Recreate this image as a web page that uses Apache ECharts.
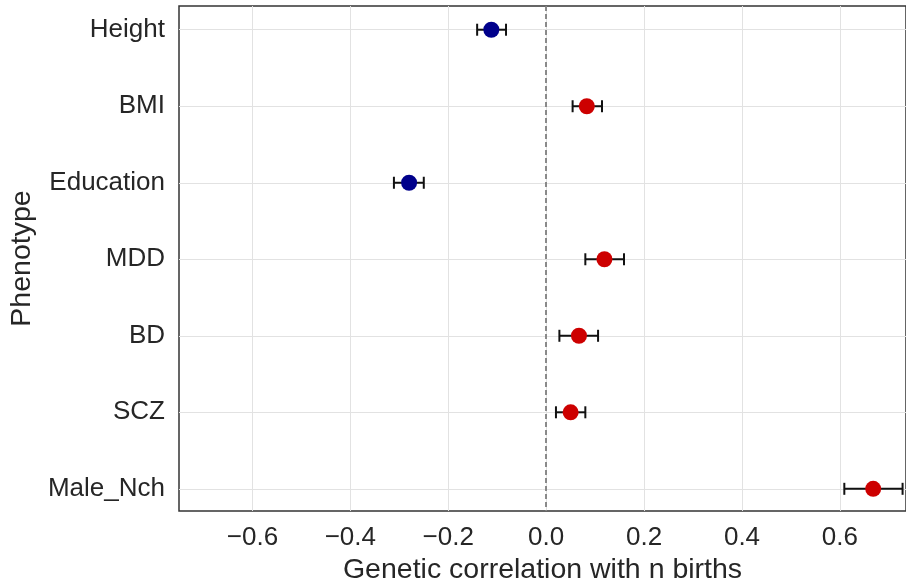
<!DOCTYPE html>
<html>
<head>
<meta charset="utf-8">
<script src="https://cdn.jsdelivr.net/npm/echarts@6/dist/echarts.min.js"></script>
<style>html,body{margin:0;padding:0;background:#fff}#c{width:906px;height:582px}</style>
</head>
<body>
<div id="c"></div>
<script>
const phenotypes = ["Height", "BMI", "Education", "MDD", "BD", "SCZ", "Male_Nch"];
const rg = [-0.112, 0.083, -0.280, 0.119, 0.067, 0.050, 0.668];
const lower = [-0.141, 0.054, -0.311, 0.080, 0.027, 0.020, 0.609];
const upper = [-0.082, 0.114, -0.250, 0.159, 0.106, 0.080, 0.728];
const xTicks = [-0.6, -0.4, -0.2, 0.0, 0.2, 0.4, 0.6];
const yTicks = [0, 1, 2, 3, 4, 5, 6];

const textColor = '#262626';
const font = 'Liberation Sans, Arial, sans-serif';

const pointData = phenotypes.map((p, i) => ({
  value: [rg[i], i],
  itemStyle: { color: rg[i] < 0 ? '#00008B' : '#CD0000', opacity: 1 }
}));
const errData = phenotypes.map((p, i) => [lower[i], upper[i], i]);

const chart = echarts.init(document.getElementById('c'), null, { renderer: 'canvas' });
chart.setOption({
  animation: false,
  backgroundColor: '#fff',
  grid: { left: 179, right: 0, top: 6, bottom: 71, show: true, borderColor: '#333', borderWidth: 1.5, backgroundColor: 'transparent', containLabel: false, outerBoundsMode: 'none' },
  xAxis: {
    type: 'value', min: -0.75, max: 0.735,
    name: 'Genetic correlation with n births', nameLocation: 'middle', nameGap: 44,
    nameTextStyle: { fontSize: 28.5, color: textColor, fontFamily: font },
    axisLine: { show: false },
    axisTick: { show: false, customValues: xTicks },
    axisLabel: {
      customValues: xTicks, fontSize: 26, color: textColor, fontFamily: font, margin: 14,
      formatter: v => (v < 0 ? '\u2212' : '') + Math.abs(v).toFixed(1)
    },
    splitLine: { show: true, lineStyle: { color: '#e2e2e2', width: 1 } }
  },
  yAxis: {
    type: 'value', inverse: true, min: -0.31, max: 6.29,
    name: 'Phenotype', nameLocation: 'middle', nameGap: 137,
    nameTextStyle: { fontSize: 28.5, color: textColor, fontFamily: font },
    axisLine: { show: false },
    axisTick: { show: false, customValues: yTicks },
    axisLabel: {
      customValues: yTicks, fontSize: 26, color: textColor, fontFamily: font, margin: 14,
      padding: [4, 0, 0, 0],
      formatter: v => phenotypes[Math.round(v)] || ''
    },
    splitLine: { show: true, lineStyle: { color: '#e2e2e2', width: 1 } }
  },
  series: [
    {
      type: 'custom',
      data: errData,
      z: 3,
      renderItem: function (params, api) {
        const a = api.coord([api.value(0), api.value(2)]);
        const b = api.coord([api.value(1), api.value(2)]);
        const h = 6;
        const st = { stroke: '#111', lineWidth: 2 };
        return {
          type: 'group',
          children: [
            { type: 'line', shape: { x1: a[0], y1: a[1], x2: b[0], y2: b[1] }, style: st },
            { type: 'line', shape: { x1: a[0], y1: a[1] - h, x2: a[0], y2: a[1] + h }, style: st },
            { type: 'line', shape: { x1: b[0], y1: b[1] - h, x2: b[0], y2: b[1] + h }, style: st }
          ]
        };
      }
    },
    {
      type: 'scatter',
      data: pointData,
      symbolSize: 16,
      z: 4,
      itemStyle: { opacity: 1 },
      markLine: {
        silent: true, symbol: ['none', 'none'], label: { show: false },
        lineStyle: { color: '#7f7f7f', type: [5, 3], width: 1.8 },
        data: [{ xAxis: 0 }]
      }
    }
  ]
});
</script>
</body>
</html>
